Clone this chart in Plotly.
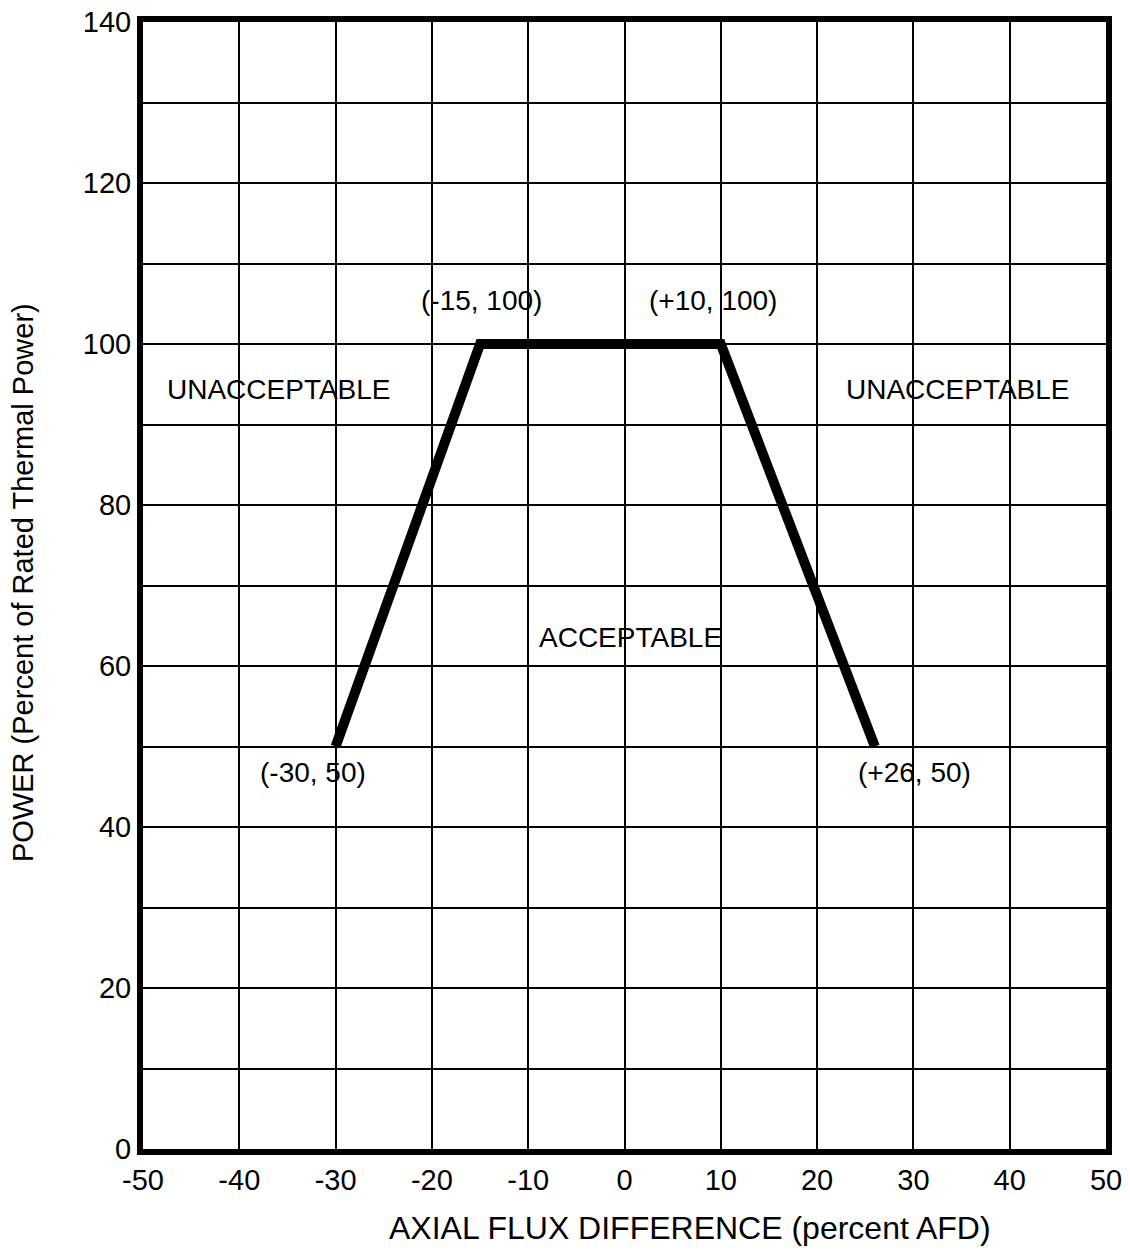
import plotly.graph_objects as go

# Data
afd = [-30, -15, 10, 26]
power = [50, 100, 100, 50]
point_labels = ["(-30, 50)", "(-15, 100)", "(+10, 100)", "(+26, 50)"]

x_tickvals = [-50, -40, -30, -20, -10, 0, 10, 20, 30, 40, 50]
x_ticktext = ["-50", "-40", "-30", "-20", "-10", "0", "10", "20", "30", "40", "50"]
y_tickvals = [0, 10, 20, 30, 40, 50, 60, 70, 80, 90, 100, 110, 120, 130, 140]
y_ticktext = ["0", "", "20", "", "40", "", "60", "", "80", "", "100", "", "120", "", "140"]

region_labels = ["UNACCEPTABLE", "UNACCEPTABLE", "ACCEPTABLE"]

x_title = "AXIAL FLUX DIFFERENCE (percent AFD)"
y_title = "POWER (Percent of Rated Thermal Power)"

# Label placements (data coords)
point_label_pos = [(-32.3, 46.8), (-14.8, 105.4), (9.2, 105.4), (30.1, 46.8)]
region_label_pos = [(-35.9, 94.4), (34.6, 94.4), (0.6, 63.5)]

FONT = "Liberation Sans, Arial, sans-serif"

W, H = 1130, 1260
L, R, T, B = 143, 24, 22, 111
plot_w = W - L - R
plot_h = H - T - B

fig = go.Figure()
fig.add_trace(go.Scatter(
    x=afd, y=power, mode="lines",
    line=dict(color="black", width=10),
    showlegend=False, hoverinfo="skip",
))

annotations = []
for txt, (ax, ay) in zip(point_labels, point_label_pos):
    annotations.append(dict(x=ax, y=ay, xref="x", yref="y", text=txt, showarrow=False,
                            font=dict(size=28, color="black", family=FONT),
                            xanchor="center", yanchor="middle"))
for txt, (ax, ay) in zip(region_labels, region_label_pos):
    annotations.append(dict(x=ax, y=ay, xref="x", yref="y", text=txt, showarrow=False,
                            font=dict(size=28, color="black", family=FONT),
                            xanchor="center", yanchor="middle"))

# Axis titles (pixel targets converted to paper coords)
xt_px, xt_py = 690, 1228
yt_px, yt_py = 23, 583
annotations.append(dict(x=(xt_px - L) / plot_w, y=(H - B - xt_py) / plot_h,
                        xref="paper", yref="paper", text=x_title,
                        showarrow=False, font=dict(size=32, color="black", family=FONT),
                        xanchor="center", yanchor="middle"))
annotations.append(dict(x=(yt_px - L) / plot_w, y=(H - B - yt_py) / plot_h,
                        xref="paper", yref="paper", text=y_title,
                        showarrow=False, textangle=-90,
                        font=dict(size=29, color="black", family=FONT),
                        xanchor="center", yanchor="middle"))

fig.update_layout(
    width=W, height=H,
    margin=dict(l=L, r=R, t=T, b=B, autoexpand=False),
    paper_bgcolor="white", plot_bgcolor="white",
    font=dict(family=FONT, color="black"),
    annotations=annotations,
)

fig.update_xaxes(
    range=[-50, 50], tickvals=x_tickvals, ticktext=x_ticktext,
    showgrid=True, gridcolor="black", gridwidth=1.5,
    showline=True, linecolor="black", linewidth=6, mirror=True,
    ticks="", ticklabelstandoff=0, automargin=False,
    tickfont=dict(size=29, color="black", family=FONT),
    zeroline=False,
)
fig.update_yaxes(
    range=[0, 140], tickvals=y_tickvals, ticktext=y_ticktext,
    showgrid=True, gridcolor="black", gridwidth=1.5,
    showline=True, linecolor="black", linewidth=6, mirror=True,
    ticks="", ticklabelstandoff=0, automargin=False,
    tickfont=dict(size=29, color="black", family=FONT),
    zeroline=False,
)

fig.write_html(
    "out.html",
    config={"displayModeBar": False},
    post_script="document.body.style.margin='0';document.body.style.overflow='hidden';",
)
